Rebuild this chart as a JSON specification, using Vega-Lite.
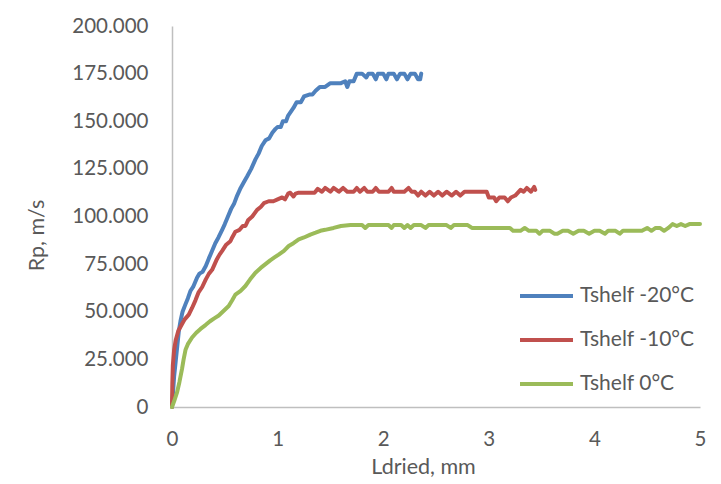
{
  "$schema": "https://vega.github.io/schema/vega-lite/v6.json",
  "width": 528,
  "height": 381,
  "autosize": "none",
  "padding": {"left": 172, "top": 26, "right": 21, "bottom": 77},
  "background": "white",
  "config": {
    "view": {"stroke": null},
    "font": "Lato",
    "axis": {
      "labelFont": "Lato",
      "titleFont": "Lato",
      "labelColor": "#595959",
      "titleColor": "#595959",
      "labelFontSize": 20.5,
      "titleFontSize": 21.5,
      "titleFontWeight": "normal",
      "domainColor": "#bfbfbf",
      "domainWidth": 1.5,
      "ticks": false,
      "grid": false,
      "labelFlush": false
    },
    "legend": {
      "labelFont": "Lato",
      "labelColor": "#595959",
      "labelFontSize": 21
    }
  },
  "datasets": {
    "curves": [
      {"L": 0, "Rp": 0, "series": "Tshelf -20°C"},
      {"L": 0.01, "Rp": 8, "series": "Tshelf -20°C"},
      {"L": 0.02, "Rp": 16, "series": "Tshelf -20°C"},
      {"L": 0.035, "Rp": 24, "series": "Tshelf -20°C"},
      {"L": 0.05, "Rp": 32, "series": "Tshelf -20°C"},
      {"L": 0.065, "Rp": 40, "series": "Tshelf -20°C"},
      {"L": 0.08, "Rp": 45, "series": "Tshelf -20°C"},
      {"L": 0.1, "Rp": 50, "series": "Tshelf -20°C"},
      {"L": 0.128, "Rp": 54, "series": "Tshelf -20°C"},
      {"L": 0.15, "Rp": 57, "series": "Tshelf -20°C"},
      {"L": 0.175, "Rp": 61, "series": "Tshelf -20°C"},
      {"L": 0.2, "Rp": 63, "series": "Tshelf -20°C"},
      {"L": 0.238, "Rp": 68, "series": "Tshelf -20°C"},
      {"L": 0.26, "Rp": 70, "series": "Tshelf -20°C"},
      {"L": 0.29, "Rp": 71, "series": "Tshelf -20°C"},
      {"L": 0.32, "Rp": 74, "series": "Tshelf -20°C"},
      {"L": 0.349, "Rp": 78, "series": "Tshelf -20°C"},
      {"L": 0.38, "Rp": 82, "series": "Tshelf -20°C"},
      {"L": 0.41, "Rp": 86, "series": "Tshelf -20°C"},
      {"L": 0.44, "Rp": 89, "series": "Tshelf -20°C"},
      {"L": 0.475, "Rp": 93, "series": "Tshelf -20°C"},
      {"L": 0.5, "Rp": 96, "series": "Tshelf -20°C"},
      {"L": 0.522, "Rp": 99, "series": "Tshelf -20°C"},
      {"L": 0.56, "Rp": 104, "series": "Tshelf -20°C"},
      {"L": 0.59, "Rp": 107, "series": "Tshelf -20°C"},
      {"L": 0.617, "Rp": 111, "series": "Tshelf -20°C"},
      {"L": 0.65, "Rp": 115, "series": "Tshelf -20°C"},
      {"L": 0.68, "Rp": 118, "series": "Tshelf -20°C"},
      {"L": 0.711, "Rp": 121, "series": "Tshelf -20°C"},
      {"L": 0.75, "Rp": 125, "series": "Tshelf -20°C"},
      {"L": 0.79, "Rp": 130, "series": "Tshelf -20°C"},
      {"L": 0.82, "Rp": 133, "series": "Tshelf -20°C"},
      {"L": 0.85, "Rp": 137, "series": "Tshelf -20°C"},
      {"L": 0.885, "Rp": 140, "series": "Tshelf -20°C"},
      {"L": 0.92, "Rp": 141, "series": "Tshelf -20°C"},
      {"L": 0.95, "Rp": 144, "series": "Tshelf -20°C"},
      {"L": 0.98, "Rp": 146, "series": "Tshelf -20°C"},
      {"L": 1.0, "Rp": 147, "series": "Tshelf -20°C"},
      {"L": 1.03, "Rp": 147, "series": "Tshelf -20°C"},
      {"L": 1.05, "Rp": 150, "series": "Tshelf -20°C"},
      {"L": 1.08, "Rp": 150, "series": "Tshelf -20°C"},
      {"L": 1.1, "Rp": 153, "series": "Tshelf -20°C"},
      {"L": 1.15, "Rp": 157, "series": "Tshelf -20°C"},
      {"L": 1.18, "Rp": 160, "series": "Tshelf -20°C"},
      {"L": 1.22, "Rp": 160, "series": "Tshelf -20°C"},
      {"L": 1.25, "Rp": 163, "series": "Tshelf -20°C"},
      {"L": 1.3, "Rp": 164, "series": "Tshelf -20°C"},
      {"L": 1.33, "Rp": 164, "series": "Tshelf -20°C"},
      {"L": 1.36, "Rp": 166, "series": "Tshelf -20°C"},
      {"L": 1.4, "Rp": 168, "series": "Tshelf -20°C"},
      {"L": 1.45, "Rp": 168, "series": "Tshelf -20°C"},
      {"L": 1.5, "Rp": 170, "series": "Tshelf -20°C"},
      {"L": 1.6, "Rp": 170, "series": "Tshelf -20°C"},
      {"L": 1.64, "Rp": 171, "series": "Tshelf -20°C"},
      {"L": 1.66, "Rp": 168, "series": "Tshelf -20°C"},
      {"L": 1.68, "Rp": 171, "series": "Tshelf -20°C"},
      {"L": 1.72, "Rp": 171, "series": "Tshelf -20°C"},
      {"L": 1.75, "Rp": 175, "series": "Tshelf -20°C"},
      {"L": 1.8, "Rp": 175, "series": "Tshelf -20°C"},
      {"L": 1.84, "Rp": 173, "series": "Tshelf -20°C"},
      {"L": 1.86, "Rp": 175, "series": "Tshelf -20°C"},
      {"L": 1.9, "Rp": 175, "series": "Tshelf -20°C"},
      {"L": 1.93, "Rp": 172, "series": "Tshelf -20°C"},
      {"L": 1.95, "Rp": 175, "series": "Tshelf -20°C"},
      {"L": 2.0, "Rp": 175, "series": "Tshelf -20°C"},
      {"L": 2.03, "Rp": 172, "series": "Tshelf -20°C"},
      {"L": 2.05, "Rp": 175, "series": "Tshelf -20°C"},
      {"L": 2.1, "Rp": 175, "series": "Tshelf -20°C"},
      {"L": 2.13, "Rp": 172, "series": "Tshelf -20°C"},
      {"L": 2.16, "Rp": 175, "series": "Tshelf -20°C"},
      {"L": 2.2, "Rp": 175, "series": "Tshelf -20°C"},
      {"L": 2.23, "Rp": 172, "series": "Tshelf -20°C"},
      {"L": 2.26, "Rp": 175, "series": "Tshelf -20°C"},
      {"L": 2.3, "Rp": 175, "series": "Tshelf -20°C"},
      {"L": 2.33, "Rp": 172, "series": "Tshelf -20°C"},
      {"L": 2.35, "Rp": 172, "series": "Tshelf -20°C"},
      {"L": 2.36, "Rp": 175, "series": "Tshelf -20°C"},

      {"L": 0, "Rp": 0, "series": "Tshelf -10°C"},
      {"L": 0.003, "Rp": 12, "series": "Tshelf -10°C"},
      {"L": 0.008, "Rp": 22, "series": "Tshelf -10°C"},
      {"L": 0.02, "Rp": 30, "series": "Tshelf -10°C"},
      {"L": 0.035, "Rp": 35, "series": "Tshelf -10°C"},
      {"L": 0.06, "Rp": 40, "series": "Tshelf -10°C"},
      {"L": 0.09, "Rp": 43, "series": "Tshelf -10°C"},
      {"L": 0.12, "Rp": 46, "series": "Tshelf -10°C"},
      {"L": 0.159, "Rp": 48.5, "series": "Tshelf -10°C"},
      {"L": 0.19, "Rp": 52, "series": "Tshelf -10°C"},
      {"L": 0.222, "Rp": 56, "series": "Tshelf -10°C"},
      {"L": 0.25, "Rp": 60, "series": "Tshelf -10°C"},
      {"L": 0.286, "Rp": 63, "series": "Tshelf -10°C"},
      {"L": 0.32, "Rp": 67, "series": "Tshelf -10°C"},
      {"L": 0.35, "Rp": 70, "series": "Tshelf -10°C"},
      {"L": 0.38, "Rp": 72, "series": "Tshelf -10°C"},
      {"L": 0.42, "Rp": 77, "series": "Tshelf -10°C"},
      {"L": 0.45, "Rp": 80, "series": "Tshelf -10°C"},
      {"L": 0.475, "Rp": 82, "series": "Tshelf -10°C"},
      {"L": 0.51, "Rp": 85, "series": "Tshelf -10°C"},
      {"L": 0.553, "Rp": 87, "series": "Tshelf -10°C"},
      {"L": 0.57, "Rp": 89, "series": "Tshelf -10°C"},
      {"L": 0.6, "Rp": 92, "series": "Tshelf -10°C"},
      {"L": 0.64, "Rp": 93, "series": "Tshelf -10°C"},
      {"L": 0.67, "Rp": 95, "series": "Tshelf -10°C"},
      {"L": 0.695, "Rp": 95, "series": "Tshelf -10°C"},
      {"L": 0.72, "Rp": 98, "series": "Tshelf -10°C"},
      {"L": 0.76, "Rp": 100, "series": "Tshelf -10°C"},
      {"L": 0.806, "Rp": 103.5, "series": "Tshelf -10°C"},
      {"L": 0.84, "Rp": 105, "series": "Tshelf -10°C"},
      {"L": 0.87, "Rp": 107, "series": "Tshelf -10°C"},
      {"L": 0.916, "Rp": 108, "series": "Tshelf -10°C"},
      {"L": 0.96, "Rp": 108, "series": "Tshelf -10°C"},
      {"L": 1.0, "Rp": 109, "series": "Tshelf -10°C"},
      {"L": 1.043, "Rp": 110, "series": "Tshelf -10°C"},
      {"L": 1.07, "Rp": 109, "series": "Tshelf -10°C"},
      {"L": 1.1, "Rp": 112, "series": "Tshelf -10°C"},
      {"L": 1.12, "Rp": 112.5, "series": "Tshelf -10°C"},
      {"L": 1.15, "Rp": 110.5, "series": "Tshelf -10°C"},
      {"L": 1.17, "Rp": 112, "series": "Tshelf -10°C"},
      {"L": 1.2, "Rp": 112.5, "series": "Tshelf -10°C"},
      {"L": 1.35, "Rp": 112.5, "series": "Tshelf -10°C"},
      {"L": 1.38, "Rp": 114.5, "series": "Tshelf -10°C"},
      {"L": 1.42, "Rp": 113, "series": "Tshelf -10°C"},
      {"L": 1.45, "Rp": 115, "series": "Tshelf -10°C"},
      {"L": 1.5, "Rp": 113, "series": "Tshelf -10°C"},
      {"L": 1.53, "Rp": 115, "series": "Tshelf -10°C"},
      {"L": 1.58, "Rp": 113, "series": "Tshelf -10°C"},
      {"L": 1.62, "Rp": 115, "series": "Tshelf -10°C"},
      {"L": 1.66, "Rp": 113, "series": "Tshelf -10°C"},
      {"L": 1.72, "Rp": 113, "series": "Tshelf -10°C"},
      {"L": 1.75, "Rp": 115, "series": "Tshelf -10°C"},
      {"L": 1.78, "Rp": 113, "series": "Tshelf -10°C"},
      {"L": 1.82, "Rp": 115, "series": "Tshelf -10°C"},
      {"L": 1.85, "Rp": 113, "series": "Tshelf -10°C"},
      {"L": 1.9, "Rp": 113, "series": "Tshelf -10°C"},
      {"L": 1.93, "Rp": 115, "series": "Tshelf -10°C"},
      {"L": 1.96, "Rp": 113, "series": "Tshelf -10°C"},
      {"L": 2.05, "Rp": 113, "series": "Tshelf -10°C"},
      {"L": 2.08, "Rp": 115, "series": "Tshelf -10°C"},
      {"L": 2.1, "Rp": 113, "series": "Tshelf -10°C"},
      {"L": 2.2, "Rp": 113, "series": "Tshelf -10°C"},
      {"L": 2.24, "Rp": 115, "series": "Tshelf -10°C"},
      {"L": 2.27, "Rp": 113, "series": "Tshelf -10°C"},
      {"L": 2.3, "Rp": 113, "series": "Tshelf -10°C"},
      {"L": 2.33, "Rp": 111, "series": "Tshelf -10°C"},
      {"L": 2.36, "Rp": 113, "series": "Tshelf -10°C"},
      {"L": 2.4, "Rp": 111, "series": "Tshelf -10°C"},
      {"L": 2.44, "Rp": 113, "series": "Tshelf -10°C"},
      {"L": 2.48, "Rp": 111, "series": "Tshelf -10°C"},
      {"L": 2.52, "Rp": 113, "series": "Tshelf -10°C"},
      {"L": 2.56, "Rp": 111, "series": "Tshelf -10°C"},
      {"L": 2.6, "Rp": 113, "series": "Tshelf -10°C"},
      {"L": 2.65, "Rp": 111, "series": "Tshelf -10°C"},
      {"L": 2.69, "Rp": 113, "series": "Tshelf -10°C"},
      {"L": 2.73, "Rp": 111, "series": "Tshelf -10°C"},
      {"L": 2.77, "Rp": 113, "series": "Tshelf -10°C"},
      {"L": 2.98, "Rp": 113, "series": "Tshelf -10°C"},
      {"L": 3.0, "Rp": 110, "series": "Tshelf -10°C"},
      {"L": 3.05, "Rp": 110, "series": "Tshelf -10°C"},
      {"L": 3.07, "Rp": 108, "series": "Tshelf -10°C"},
      {"L": 3.1, "Rp": 110, "series": "Tshelf -10°C"},
      {"L": 3.15, "Rp": 110, "series": "Tshelf -10°C"},
      {"L": 3.18, "Rp": 108, "series": "Tshelf -10°C"},
      {"L": 3.21, "Rp": 110, "series": "Tshelf -10°C"},
      {"L": 3.25, "Rp": 111, "series": "Tshelf -10°C"},
      {"L": 3.3, "Rp": 114, "series": "Tshelf -10°C"},
      {"L": 3.33, "Rp": 113, "series": "Tshelf -10°C"},
      {"L": 3.36, "Rp": 115, "series": "Tshelf -10°C"},
      {"L": 3.4, "Rp": 113, "series": "Tshelf -10°C"},
      {"L": 3.43, "Rp": 115.5, "series": "Tshelf -10°C"},
      {"L": 3.44, "Rp": 114, "series": "Tshelf -10°C"},

      {"L": 0, "Rp": 0, "series": "Tshelf 0°C"},
      {"L": 0.02, "Rp": 3, "series": "Tshelf 0°C"},
      {"L": 0.047, "Rp": 7.5, "series": "Tshelf 0°C"},
      {"L": 0.07, "Rp": 13, "series": "Tshelf 0°C"},
      {"L": 0.095, "Rp": 20, "series": "Tshelf 0°C"},
      {"L": 0.11, "Rp": 25, "series": "Tshelf 0°C"},
      {"L": 0.128, "Rp": 30, "series": "Tshelf 0°C"},
      {"L": 0.15, "Rp": 33, "series": "Tshelf 0°C"},
      {"L": 0.19, "Rp": 36.5, "series": "Tshelf 0°C"},
      {"L": 0.23, "Rp": 39, "series": "Tshelf 0°C"},
      {"L": 0.27, "Rp": 41, "series": "Tshelf 0°C"},
      {"L": 0.317, "Rp": 43, "series": "Tshelf 0°C"},
      {"L": 0.36, "Rp": 45, "series": "Tshelf 0°C"},
      {"L": 0.4, "Rp": 46.5, "series": "Tshelf 0°C"},
      {"L": 0.443, "Rp": 48, "series": "Tshelf 0°C"},
      {"L": 0.49, "Rp": 50.5, "series": "Tshelf 0°C"},
      {"L": 0.537, "Rp": 53, "series": "Tshelf 0°C"},
      {"L": 0.57, "Rp": 56, "series": "Tshelf 0°C"},
      {"L": 0.6, "Rp": 59, "series": "Tshelf 0°C"},
      {"L": 0.65, "Rp": 61, "series": "Tshelf 0°C"},
      {"L": 0.695, "Rp": 63.5, "series": "Tshelf 0°C"},
      {"L": 0.74, "Rp": 67, "series": "Tshelf 0°C"},
      {"L": 0.79, "Rp": 70.5, "series": "Tshelf 0°C"},
      {"L": 0.84, "Rp": 73, "series": "Tshelf 0°C"},
      {"L": 0.885, "Rp": 75, "series": "Tshelf 0°C"},
      {"L": 0.93, "Rp": 77, "series": "Tshelf 0°C"},
      {"L": 0.97, "Rp": 78.5, "series": "Tshelf 0°C"},
      {"L": 1.01, "Rp": 80, "series": "Tshelf 0°C"},
      {"L": 1.06, "Rp": 82, "series": "Tshelf 0°C"},
      {"L": 1.105, "Rp": 84.5, "series": "Tshelf 0°C"},
      {"L": 1.15, "Rp": 86, "series": "Tshelf 0°C"},
      {"L": 1.2, "Rp": 88, "series": "Tshelf 0°C"},
      {"L": 1.25, "Rp": 89, "series": "Tshelf 0°C"},
      {"L": 1.31, "Rp": 90.5, "series": "Tshelf 0°C"},
      {"L": 1.36, "Rp": 91.5, "series": "Tshelf 0°C"},
      {"L": 1.405, "Rp": 92.5, "series": "Tshelf 0°C"},
      {"L": 1.45, "Rp": 93, "series": "Tshelf 0°C"},
      {"L": 1.53, "Rp": 94, "series": "Tshelf 0°C"},
      {"L": 1.6, "Rp": 95, "series": "Tshelf 0°C"},
      {"L": 1.69, "Rp": 95.5, "series": "Tshelf 0°C"},
      {"L": 1.8, "Rp": 95.5, "series": "Tshelf 0°C"},
      {"L": 1.83, "Rp": 94, "series": "Tshelf 0°C"},
      {"L": 1.86, "Rp": 95.5, "series": "Tshelf 0°C"},
      {"L": 2.05, "Rp": 95.5, "series": "Tshelf 0°C"},
      {"L": 2.08, "Rp": 94, "series": "Tshelf 0°C"},
      {"L": 2.1, "Rp": 95.5, "series": "Tshelf 0°C"},
      {"L": 2.17, "Rp": 95.5, "series": "Tshelf 0°C"},
      {"L": 2.2, "Rp": 94, "series": "Tshelf 0°C"},
      {"L": 2.23, "Rp": 95.5, "series": "Tshelf 0°C"},
      {"L": 2.26, "Rp": 94, "series": "Tshelf 0°C"},
      {"L": 2.29, "Rp": 95.5, "series": "Tshelf 0°C"},
      {"L": 2.36, "Rp": 95.5, "series": "Tshelf 0°C"},
      {"L": 2.4, "Rp": 94, "series": "Tshelf 0°C"},
      {"L": 2.43, "Rp": 95.5, "series": "Tshelf 0°C"},
      {"L": 2.6, "Rp": 95.5, "series": "Tshelf 0°C"},
      {"L": 2.64, "Rp": 94, "series": "Tshelf 0°C"},
      {"L": 2.67, "Rp": 95.5, "series": "Tshelf 0°C"},
      {"L": 2.8, "Rp": 95.5, "series": "Tshelf 0°C"},
      {"L": 2.84, "Rp": 94, "series": "Tshelf 0°C"},
      {"L": 3.2, "Rp": 94, "series": "Tshelf 0°C"},
      {"L": 3.23, "Rp": 92.5, "series": "Tshelf 0°C"},
      {"L": 3.3, "Rp": 92.5, "series": "Tshelf 0°C"},
      {"L": 3.34, "Rp": 94, "series": "Tshelf 0°C"},
      {"L": 3.38, "Rp": 92.5, "series": "Tshelf 0°C"},
      {"L": 3.45, "Rp": 92.5, "series": "Tshelf 0°C"},
      {"L": 3.48, "Rp": 91, "series": "Tshelf 0°C"},
      {"L": 3.51, "Rp": 92.5, "series": "Tshelf 0°C"},
      {"L": 3.58, "Rp": 92.5, "series": "Tshelf 0°C"},
      {"L": 3.62, "Rp": 91, "series": "Tshelf 0°C"},
      {"L": 3.65, "Rp": 91, "series": "Tshelf 0°C"},
      {"L": 3.7, "Rp": 92.5, "series": "Tshelf 0°C"},
      {"L": 3.75, "Rp": 92.5, "series": "Tshelf 0°C"},
      {"L": 3.8, "Rp": 91, "series": "Tshelf 0°C"},
      {"L": 3.85, "Rp": 92.5, "series": "Tshelf 0°C"},
      {"L": 3.9, "Rp": 92.5, "series": "Tshelf 0°C"},
      {"L": 3.95, "Rp": 91, "series": "Tshelf 0°C"},
      {"L": 4.0, "Rp": 92.5, "series": "Tshelf 0°C"},
      {"L": 4.05, "Rp": 92.5, "series": "Tshelf 0°C"},
      {"L": 4.1, "Rp": 91, "series": "Tshelf 0°C"},
      {"L": 4.13, "Rp": 92.5, "series": "Tshelf 0°C"},
      {"L": 4.2, "Rp": 92.5, "series": "Tshelf 0°C"},
      {"L": 4.24, "Rp": 91, "series": "Tshelf 0°C"},
      {"L": 4.27, "Rp": 92.5, "series": "Tshelf 0°C"},
      {"L": 4.45, "Rp": 92.5, "series": "Tshelf 0°C"},
      {"L": 4.5, "Rp": 94, "series": "Tshelf 0°C"},
      {"L": 4.54, "Rp": 92.5, "series": "Tshelf 0°C"},
      {"L": 4.58, "Rp": 94, "series": "Tshelf 0°C"},
      {"L": 4.62, "Rp": 94, "series": "Tshelf 0°C"},
      {"L": 4.66, "Rp": 92.5, "series": "Tshelf 0°C"},
      {"L": 4.7, "Rp": 94, "series": "Tshelf 0°C"},
      {"L": 4.74, "Rp": 96, "series": "Tshelf 0°C"},
      {"L": 4.78, "Rp": 95, "series": "Tshelf 0°C"},
      {"L": 4.82, "Rp": 96, "series": "Tshelf 0°C"},
      {"L": 4.86, "Rp": 95, "series": "Tshelf 0°C"},
      {"L": 4.9, "Rp": 96, "series": "Tshelf 0°C"},
      {"L": 5.0, "Rp": 96, "series": "Tshelf 0°C"}
    ]
  },
  "data": {"name": "curves"},
  "mark": {"type": "line", "strokeWidth": 4, "strokeJoin": "round", "strokeCap": "round"},
  "encoding": {
    "x": {
      "field": "L",
      "type": "quantitative",
      "scale": {"domain": [0, 5], "nice": false, "zero": true},
      "axis": {
        "values": [0, 1, 2, 3, 4, 5],
        "format": "d",
        "labelPadding": 22,
        "title": "Ldried, mm",
        "titleX": 251,
        "titleY": 60,
        "titleBaseline": "middle",
        "titleAlign": "center"
      }
    },
    "y": {
      "field": "Rp",
      "type": "quantitative",
      "scale": {"domain": [0, 200], "nice": false},
      "axis": {
        "values": [0, 25, 50, 75, 100, 125, 150, 175, 200],
        "labelExpr": "datum.value == 0 ? '0' : format(datum.value, '.3f')",
        "labelPadding": 24,
        "title": "Rp, m/s",
        "titleAngle": -90,
        "titleX": -135,
        "titleY": 209,
        "titleBaseline": "middle",
        "titleAlign": "center"
      }
    },
    "color": {
      "field": "series",
      "type": "nominal",
      "sort": ["Tshelf -20°C", "Tshelf -10°C", "Tshelf 0°C"],
      "scale": {
        "domain": ["Tshelf -20°C", "Tshelf -10°C", "Tshelf 0°C"],
        "range": ["#4f81bd", "#c0504d", "#9bbb59"]
      },
      "legend": {
        "title": null,
        "orient": "none",
        "legendX": 346,
        "legendY": 260,
        "symbolType": "stroke",
        "symbolSize": 2809,
        "symbolStrokeWidth": 4,
        "clipHeight": 20,
        "rowPadding": 23,
        "labelOffset": 5
      }
    }
  }
}
